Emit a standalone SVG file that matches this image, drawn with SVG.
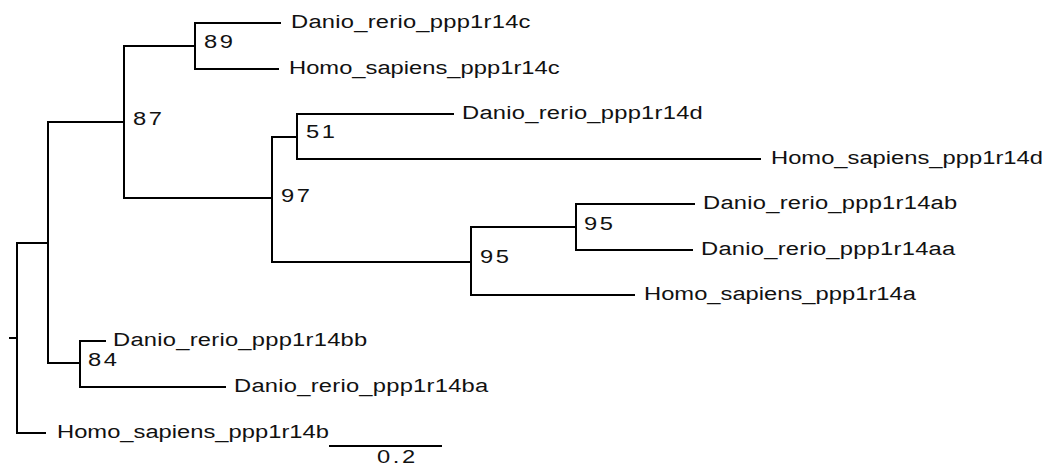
<svg xmlns="http://www.w3.org/2000/svg" width="1048" height="466" viewBox="0 0 1048 466">
<style>
.br{stroke:#000;stroke-width:2;fill:none;stroke-linecap:square}
.tx{font-family:"Liberation Sans",Arial,sans-serif;font-size:18px;fill:#111}
.dr{letter-spacing:0.18px}
.bs{font-family:"Liberation Sans",Arial,sans-serif;font-size:18px;fill:#111;letter-spacing:2px}
</style>
<rect width="1048" height="466" fill="#fff"/>
<g id="connectors" class="br">
<path d="M10,338H17M17,243V433M17,243H48M17,433H45"/>
<path d="M48,122V363M48,122H124M48,363H80"/>
<path d="M124,46V198M124,46H195M124,198H272"/>
<path d="M195,23V69M195,23H280M195,69H278"/>
<path d="M272,137V262M272,137H297M272,262H471"/>
<path d="M297,114V159M297,114H453M297,159H760"/>
<path d="M471,227V295M471,227H576M471,295H634"/>
<path d="M576,204V250M576,204H694M576,250H692"/>
<path d="M80,341V387M80,341H105M80,387H225"/>
</g>
<g id="leaf_Danio_rerio_ppp1r14c"><text class="tx dr" transform="translate(291,28) scale(1.32,1)">Danio_rerio_ppp1r14c</text></g>
<g id="leaf_Homo_sapiens_ppp1r14c"><text class="tx" transform="translate(289,74) scale(1.32,1)">Homo_sapiens_ppp1r14c</text></g>
<g id="leaf_Danio_rerio_ppp1r14d"><text class="tx dr" transform="translate(462,119) scale(1.32,1)">Danio_rerio_ppp1r14d</text></g>
<g id="leaf_Homo_sapiens_ppp1r14d"><text class="tx" transform="translate(771,164) scale(1.32,1)">Homo_sapiens_ppp1r14d</text></g>
<g id="leaf_Danio_rerio_ppp1r14ab"><text class="tx dr" transform="translate(703,209) scale(1.32,1)">Danio_rerio_ppp1r14ab</text></g>
<g id="leaf_Danio_rerio_ppp1r14aa"><text class="tx dr" transform="translate(701,255) scale(1.32,1)">Danio_rerio_ppp1r14aa</text></g>
<g id="leaf_Homo_sapiens_ppp1r14a"><text class="tx" transform="translate(644,300) scale(1.32,1)">Homo_sapiens_ppp1r14a</text></g>
<g id="leaf_Danio_rerio_ppp1r14bb"><text class="tx dr" transform="translate(113,346) scale(1.32,1)">Danio_rerio_ppp1r14bb</text></g>
<g id="leaf_Danio_rerio_ppp1r14ba"><text class="tx dr" transform="translate(234,392) scale(1.32,1)">Danio_rerio_ppp1r14ba</text></g>
<g id="leaf_Homo_sapiens_ppp1r14b"><text class="tx" transform="translate(57,438) scale(1.32,1)">Homo_sapiens_ppp1r14b</text></g>
<g id="node_89"><text class="bs" transform="translate(204,48) scale(1.32,1)">89</text></g>
<g id="node_87"><text class="bs" transform="translate(133,125) scale(1.32,1)">87</text></g>
<g id="node_51"><text class="bs" transform="translate(306,138) scale(1.32,1)">51</text></g>
<g id="node_97"><text class="bs" transform="translate(281,202) scale(1.32,1)">97</text></g>
<g id="node_95a"><text class="bs" transform="translate(584,230) scale(1.32,1)">95</text></g>
<g id="node_95b"><text class="bs" transform="translate(480,263) scale(1.32,1)">95</text></g>
<g id="node_84"><text class="bs" transform="translate(88,366) scale(1.32,1)">84</text></g>
<g id="scale_bar">
<path class="br" d="M330,446H441"/>
<text class="bs" transform="translate(377,463) scale(1.32,1)">0.2</text>
</g>
</svg>
